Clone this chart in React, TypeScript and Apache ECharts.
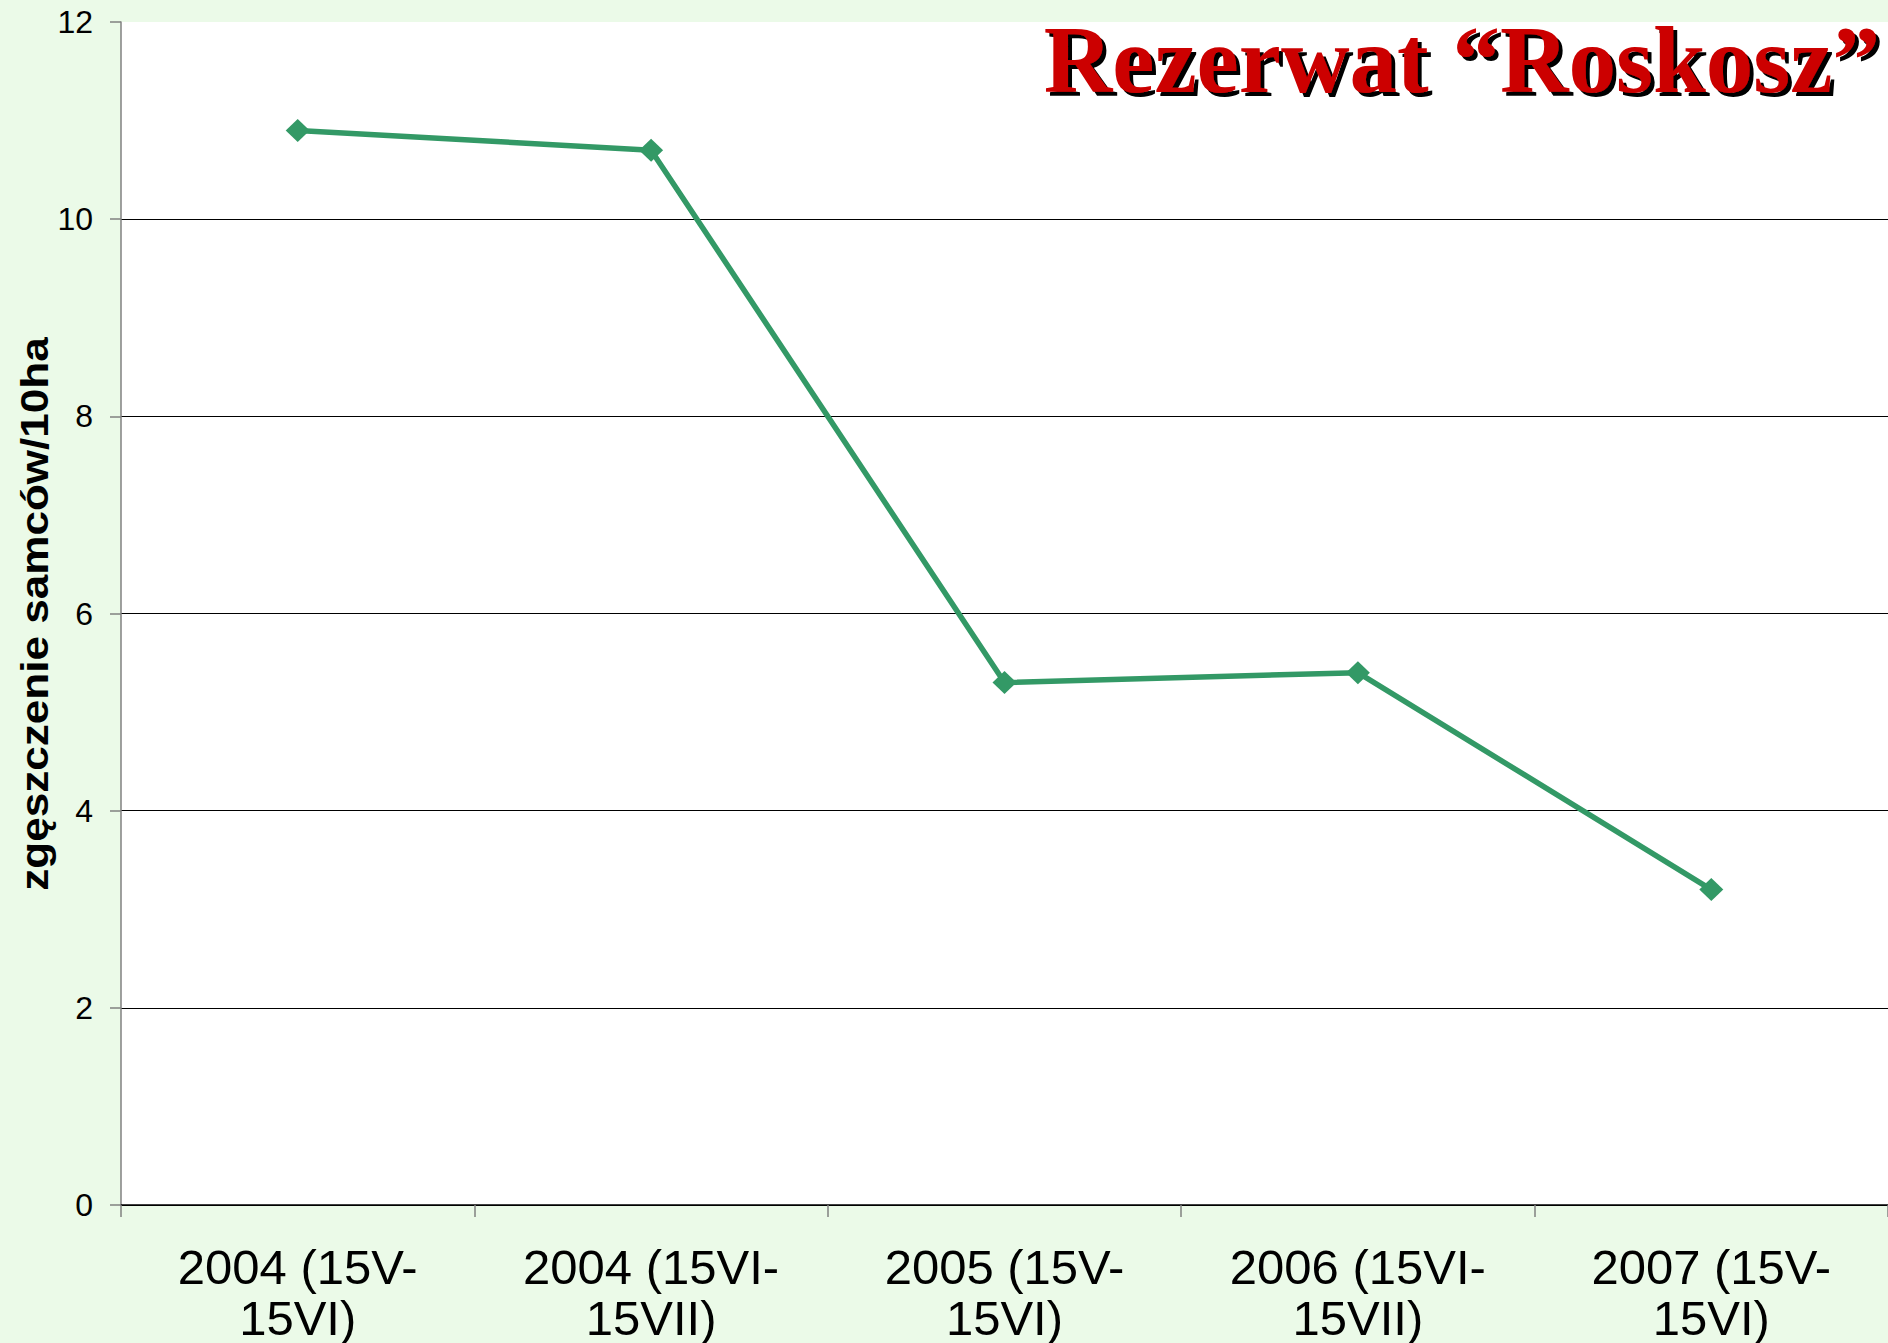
import React, { useEffect, useRef } from "react";
import * as echarts from "echarts";

const categories = [
  "2004 (15V-\n15VI)",
  "2004 (15VI-\n15VII)",
  "2005 (15V-\n15VI)",
  "2006 (15VI-\n15VII)",
  "2007 (15V-\n15VI)",
];
const density = [10.9, 10.7, 5.3, 5.4, 3.2];
const yTicks = { min: 0, max: 12, interval: 2 };
const titleText = "Rezerwat \u201cRoskosz\u201d";
const yTitle = "zgęszczenie samców/10ha";

export default function App() {
  const ref = useRef<HTMLDivElement>(null);
  useEffect(() => {
    document.body.style.margin = "0";
    const chart = echarts.init(ref.current!, undefined, { renderer: "svg" });
    chart.setOption({
      animation: false,
      backgroundColor: "#EBFAE8",
      grid: {
        left: 121,
        right: -5,
        top: 22,
        bottom: 136.5,
        show: true,
        backgroundColor: "#FFFFFF",
        borderWidth: 0,
      },
      xAxis: {
        type: "category",
        data: categories,
        boundaryGap: true,
        axisLine: { show: true, lineStyle: { color: "#000000", width: 1.5 } },
        axisTick: { show: true, length: 12, lineStyle: { color: "#808080", width: 1.5 } },
        axisLabel: {
          interval: 0,
          margin: 36,
          fontFamily: "Liberation Sans, Arial, sans-serif",
          fontSize: 49,
          lineHeight: 51,
          color: "#000000",
        },
        splitLine: { show: false },
      },
      yAxis: {
        type: "value",
        min: yTicks.min,
        max: yTicks.max,
        interval: yTicks.interval,
        axisLine: { show: true, lineStyle: { color: "#808080", width: 1.5 } },
        axisTick: { show: true, length: 11, lineStyle: { color: "#808080", width: 1.5 } },
        axisLabel: {
          margin: 28,
          fontFamily: "Liberation Sans, Arial, sans-serif",
          fontSize: 32,
          color: "#000000",
        },
        splitLine: {
          show: true,
          lineStyle: { color: "#000000", width: 1 },
          showMaxLine: false,
        },
      },
      graphic: [
        {
          type: "text",
          x: 35,
          y: 614,
          rotation: Math.PI / 2,
          scaleX: 1.16,
          style: {
            text: yTitle,
            fontFamily: "Liberation Sans, Arial, sans-serif",
            fontWeight: "bold",
            fontSize: 38,
            fill: "#000000",
            align: "center",
            verticalAlign: "middle",
          },
        },
        {
          type: "text",
          x: 1880,
          y: 12,
          z: 11,
          style: {
            text: titleText,
            fontFamily: "Liberation Serif, Times New Roman, serif",
            fontWeight: "bold",
            fontSize: 95,
            align: "right",
            verticalAlign: "top",
            fill: "#CC0000",
          },
        },
      ],
      series: [
        {
          type: "line",
          data: density,
          symbol: "diamond",
          symbolSize: [24, 23],
          lineStyle: { color: "#339966", width: 5.5 },
          itemStyle: { color: "#339966" },
        },
      ],
    });

    // Add the title's black drop shadow through an SVG filter on the rendered text.
    const svg = ref.current!.querySelector("svg");
    if (svg) {
      const NS = "http://www.w3.org/2000/svg";
      let defs = svg.querySelector("defs");
      if (!defs) {
        defs = document.createElementNS(NS, "defs");
        svg.insertBefore(defs, svg.firstChild);
      }
      const filter = document.createElementNS(NS, "filter");
      filter.setAttribute("id", "title-shadow");
      filter.setAttribute("x", "-5%");
      filter.setAttribute("y", "-20%");
      filter.setAttribute("width", "115%");
      filter.setAttribute("height", "150%");
      const drop = document.createElementNS(NS, "feDropShadow");
      drop.setAttribute("dx", "4");
      drop.setAttribute("dy", "4");
      drop.setAttribute("stdDeviation", "0");
      drop.setAttribute("flood-color", "#000000");
      drop.setAttribute("flood-opacity", "1");
      filter.appendChild(drop);
      defs.appendChild(filter);
      svg.querySelectorAll("text").forEach((t) => {
        if (t.textContent === titleText) t.setAttribute("filter", "url(#title-shadow)");
      });
    }
    return () => chart.dispose();
  }, []);
  return (
    <div
      ref={ref}
      style={{ position: "absolute", left: 0, top: 0, width: 1888, height: 1343 }}
    />
  );
}
